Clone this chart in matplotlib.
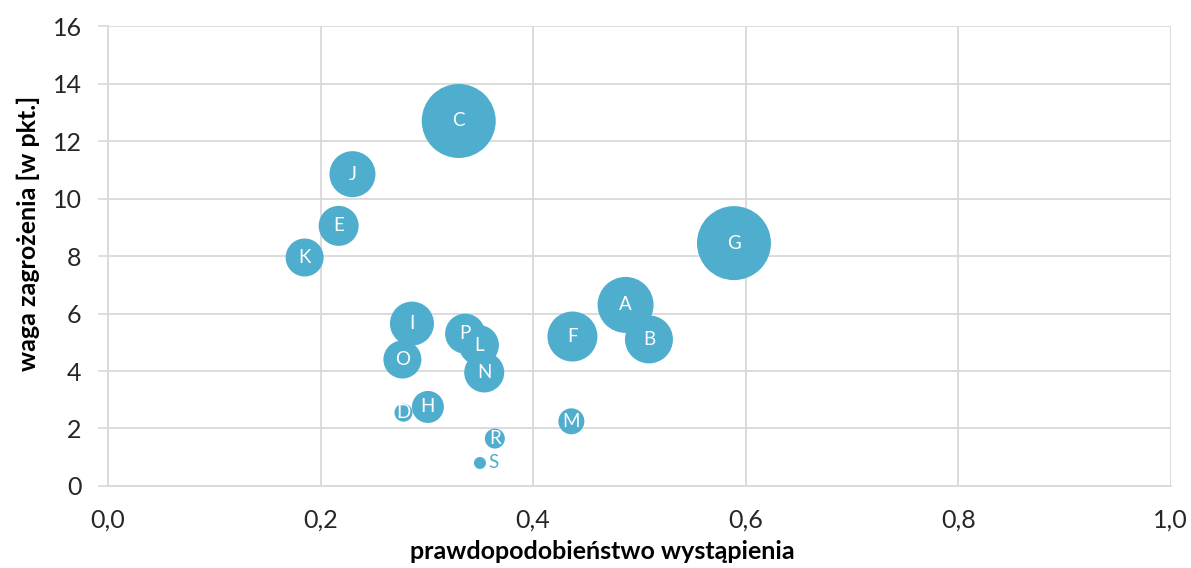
import matplotlib.pyplot as plt
import matplotlib.ticker as mticker

# threats: probability (x), weight (y), bubble size (relative area)
labels = ['A', 'B', 'C', 'D', 'E', 'F', 'G', 'H', 'I', 'J',
          'K', 'L', 'M', 'N', 'O', 'P', 'R', 'S']
probability = [0.487, 0.509, 0.330, 0.278, 0.217, 0.437, 0.589, 0.301, 0.286, 0.230,
               0.185, 0.349, 0.436, 0.354, 0.277, 0.336, 0.364, 0.350]
weight = [6.3, 5.1, 12.7, 2.55, 9.05, 5.2, 8.45, 2.75, 5.65, 10.85,
          7.95, 4.9, 2.25, 3.95, 4.4, 5.3, 1.65, 0.8]
impact = [784, 576, 1369, 81, 400, 625, 1369, 256, 484, 529,
          361, 400, 169, 400, 361, 400, 100, 36]

xticks = [0.0, 0.2, 0.4, 0.6, 0.8, 1.0]
yticks = [0, 2, 4, 6, 8, 10, 12, 14, 16]

bubble_color = '#4fadcd'
plt.rcParams['font.family'] = ['Lato', 'DejaVu Sans']

fig = plt.figure(figsize=(11.91, 5.68), dpi=100)
ax = fig.add_axes([0.0907, 0.1444, 0.8923, 0.8096])

# bubble area in pt^2 (impact ~ radius^2 in px)
sizes = [4 * v * 0.72 ** 2 for v in impact]
ax.scatter(probability, weight, s=sizes, color=bubble_color, linewidths=0, zorder=3)

for lab, x, y in zip(labels, probability, weight):
    if lab == 'S':
        ax.annotate(lab, (x, y), xytext=(10, 0), textcoords='offset points',
                    ha='center', va='center', color=bubble_color, fontsize=13.5, zorder=4)
    else:
        ax.text(x, y, lab, ha='center', va='center', color='white', fontsize=13.5, zorder=4)

ax.set_xlim(0, 1)
ax.set_ylim(0, 16)
ax.set_xticks(xticks)
ax.set_yticks(yticks)
ax.xaxis.set_major_formatter(mticker.FuncFormatter(lambda v, p: ('%.1f' % v).replace('.', ',')))
ax.tick_params(axis='both', labelsize=18, colors='#d9d9d9', labelcolor='#262626')
ax.tick_params(axis='x', length=0, pad=16)
ax.tick_params(axis='y', length=7, width=1.2, pad=12)

ax.grid(True, color='#d9d9d9', linewidth=1.3, zorder=0)
ax.set_axisbelow(True)
for side in ['top', 'right']:
    ax.spines[side].set_visible(False)
for side in ['left', 'bottom']:
    ax.spines[side].set_color('#d9d9d9')
    ax.spines[side].set_linewidth(1.3)

ax.set_xlabel('prawdopodobieństwo wystąpienia', fontsize=18, fontweight='bold')
ax.xaxis.set_label_coords(0.465, -0.118)
ax.set_ylabel('waga zagrożenia [w pkt.]', fontsize=18, fontweight='bold')
ax.yaxis.set_label_coords(-0.064, 0.55)

plt.savefig('out.png', dpi=100)
